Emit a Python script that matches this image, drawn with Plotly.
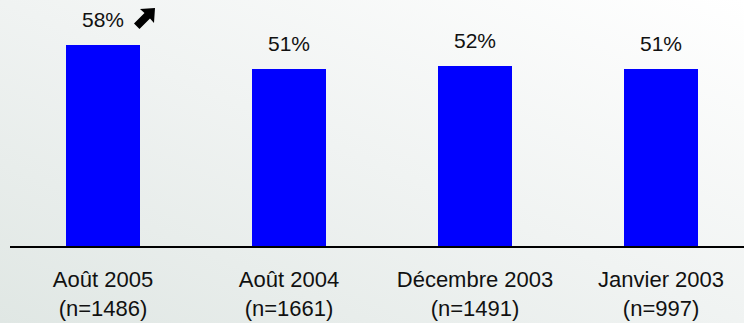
import base64
import plotly.graph_objects as go

# Survey waves and their results
periods = ["Août 2005", "Août 2004", "Décembre 2003", "Janvier 2003"]
sample_sizes = [1486, 1661, 1491, 997]
shares = [58, 51, 52, 51]

W, H = 744, 323
FONT = "Liberation Sans, Arial, sans-serif"
TEXT = "#111111"

tick_text = [f"{p}<br>(n={n})" for p, n in zip(periods, sample_sizes)]
xs = list(range(len(periods)))

fig = go.Figure()
fig.add_trace(go.Bar(
    x=xs,
    y=shares,
    width=0.398,
    marker=dict(color="#0000ff", line=dict(width=0)),
    hoverinfo="skip",
))

# value labels above each bar
for x, v in zip(xs, shares):
    fig.add_annotation(
        x=x, y=v, xref="x", yref="y",
        text=f"{v}%", showarrow=False,
        yanchor="bottom", yshift=12,
        font=dict(family=FONT, size=21, color=TEXT),
    )

# soft diagonal backdrop
svg = (
    f"<svg xmlns='http://www.w3.org/2000/svg' width='{W}' height='{H}'>"
    "<defs><linearGradient id='g' x1='0' y1='1' x2='1' y2='0'>"
    "<stop offset='0' stop-color='#e0e7e4'/>"
    "<stop offset='0.5' stop-color='#f0f3f2'/>"
    "<stop offset='1' stop-color='#ffffff'/>"
    "</linearGradient></defs>"
    f"<rect width='{W}' height='{H}' fill='url(#g)'/></svg>"
)
src = "data:image/svg+xml;base64," + base64.b64encode(svg.encode()).decode()
fig.add_layout_image(
    source=src, xref="paper", yref="paper", x=0, y=1,
    sizex=1, sizey=1, xanchor="left", yanchor="top",
    sizing="stretch", layer="below",
)

# upward trend arrow next to the latest wave
def px(x, y):
    return f"{x / W:.5f},{1 - y / H:.5f}"

arrow_pts = [(155, 8), (154, 23), (150, 18.5), (139.5, 29), (134, 23.5), (144.5, 13), (140, 9)]
path = "M" + " L".join(px(x, y) for x, y in arrow_pts) + " Z"
fig.add_shape(type="path", path=path, xref="paper", yref="paper",
              fillcolor="#000000", line=dict(width=0))

fig.update_layout(
    width=W, height=H,
    margin=dict(l=0, r=0, t=0, b=0),
    paper_bgcolor="#eef1f0",
    plot_bgcolor="rgba(0,0,0,0)",
    showlegend=False,
    bargap=0,
    xaxis=dict(
        domain=[10 / W, 1],
        range=[-0.5, 3.446],
        tickmode="array", tickvals=xs, ticktext=tick_text,
        tickfont=dict(family=FONT, size=22, color=TEXT),
        showline=True, linecolor="#000000", linewidth=2,
        ticks="", showgrid=False, zeroline=False,
        ticklabelstandoff=13,
    ),
    yaxis=dict(
        domain=[77 / H, 1],
        range=[0, 246 / 3.47],
        visible=False, showgrid=False, zeroline=False,
    ),
)

fig.write_html("out.html")
